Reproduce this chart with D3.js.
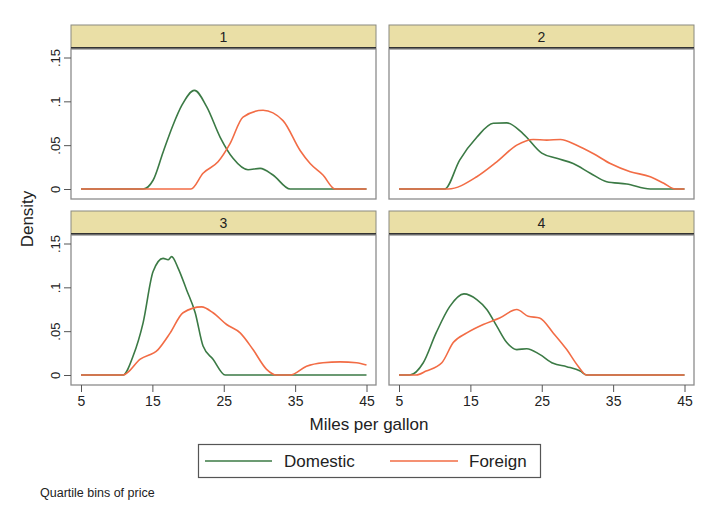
<!DOCTYPE html>
<html>
<head>
<meta charset="utf-8">
<script src="https://cdn.jsdelivr.net/npm/d3@7"></script>
<style>
  body { margin: 0; background: #fff; }
  text { font-family: "Liberation Sans", Arial, sans-serif; fill: #222; }
  .line { fill: none; stroke-width: 1.6px; stroke-linejoin: round; }
</style>
</head>
<body>
<script>
// quartile bins of price
const panels = ['1', '2', '3', '4'];
const seriesNames = ['Domestic', 'Foreign'];
const xTicks = [5, 15, 25, 35, 45];
const yTicks = [0, 0.05, 0.1, 0.15];
const yTickLabels = ['0', '.05', '.1', '.15'];

// density curves: [mpg, density]
const domestic1 = [[5,0],[13.7,0],[15.1,.010],[16.5,.042],[17.9,.073],[19.1,.095],[20.9,.1125],[22.6,.094],[24.5,.059],[26.3,.035],[28.4,.022],[30.1,.0235],[31.9,.016],[34.3,0],[45,0]];
const foreign1 = [[5,0],[20.4,0],[22.1,.018],[24.2,.031],[25.9,.052],[27.7,.082],[30.5,.0898],[33.3,.078],[35.7,.044],[37.1,.029],[38.9,.016],[40.6,0],[45,0]];
const domestic2 = [[5,0],[11.4,0],[13.5,.033],[15.9,.059],[18.2,.075],[20.1,.0754],[22.4,.063],[25,.041],[27.1,.035],[29.4,.029],[31.8,.018],[34.1,.0083],[36.9,.0057],[40.2,0],[45,0]];
const foreign2 = [[5,0],[11.9,0],[15.9,.014],[18.7,.031],[21.5,.050],[23.8,.0565],[25.7,.0557],[27.6,.0565],[29.9,.050],[32.2,.0405],[34.6,.029],[37.4,.0197],[40.2,.014],[42.1,.0065],[43.7,0],[45,0]];
const domestic3 = [[5,0],[10.9,0],[12.3,.0216],[13.7,.0595],[15.1,.118],[16.5,.133],[17.2,.1315],[17.7,.135],[18.6,.122],[19.8,.097],[21,.071],[22.1,.033],[23.5,.018],[25.2,0],[45,0]];
const foreign3 = [[5,0],[10.9,0],[13.3,.018],[15.8,.029],[17.5,.048],[19.3,.071],[21.9,.0777],[23.5,.071],[25.4,.0576],[27.3,.048],[29.1,.029],[31,.0065],[32.4,0],[34.3,0],[36.6,.010],[38.9,.014],[41.3,.015],[43.6,.014],[45,.0114]];
const domestic4 = [[5,0],[6.5,0],[8.4,.014],[10.2,.048],[12.1,.078],[14.1,.0925],[15.9,.086],[17.3,.0747],[18.7,.0557],[20.1,.037],[21.5,.029],[22.9,.030],[24.7,.0235],[26.6,.0133],[28.5,.0095],[30.4,.0045],[31.3,0],[45,0]];
const foreign4 = [[5,0],[7.4,0],[8.8,.0045],[11,.014],[12.6,.037],[14.5,.048],[16.8,.0576],[19.1,.065],[21.5,.0747],[23.1,.067],[24.7,.065],[26.6,.048],[28.5,.029],[30.1,.010],[31.3,0],[45,0]];

const curves = [
  [domestic1, foreign1],
  [domestic2, foreign2],
  [domestic3, foreign3],
  [domestic4, foreign4]
];

const colors = ['#3b7a45', '#f26c45'];

const config = {
  width: 720,
  height: 524,
  colLeft: [71, 389],
  colWidth: 305,
  rowTop: [48, 234],
  plotHeight: 151,
  stripHeight: 23,
  pad: 9.5
};

const svg = d3.select('body')
  .append('svg')
  .attr('width', config.width)
  .attr('height', config.height);

const line = d3.line()
  .x(d => d[0])
  .y(d => d[1])
  .curve(d3.curveMonotoneX);

panels.forEach((name, i) => {
  const col = i % 2;
  const row = Math.floor(i / 2);
  const left = config.colLeft[col];
  const top = config.rowTop[row];
  const w = config.colWidth;
  const h = config.plotHeight;

  const x = d3.scaleLinear().domain([5, 45]).range([left + config.pad + 0.5, left + w - config.pad]);
  const y = d3.scaleLinear().domain([0, 0.15]).range([top + h - config.pad - 0.5, top + config.pad]);

  const g = svg.append('g');

  // strip header
  g.append('rect')
    .attr('x', left).attr('y', top - config.stripHeight)
    .attr('width', w).attr('height', config.stripHeight)
    .attr('fill', '#eadfa6')
    .attr('stroke', '#8a8a80').attr('stroke-width', 1);
  g.append('line')
    .attr('x1', left).attr('x2', left + w)
    .attr('y1', top).attr('y2', top)
    .attr('stroke', '#333').attr('stroke-width', 2);
  g.append('text')
    .attr('x', left + w / 2).attr('y', top - config.stripHeight / 2 + 5)
    .attr('text-anchor', 'middle')
    .style('font-size', '14px')
    .text(name);

  // plot box
  g.append('rect')
    .attr('x', left).attr('y', top + 1)
    .attr('width', w).attr('height', h - 1)
    .attr('fill', 'none')
    .attr('stroke', '#8c8c8c').attr('stroke-width', 1.3);

  // y axis on left column
  if (col === 0) {
    const ya = g.append('g')
      .attr('transform', `translate(${left},0)`)
      .call(d3.axisLeft(y).tickValues(yTicks).tickSize(7).tickFormat((d, k) => yTickLabels[k]));
    ya.select('.domain').remove();
    ya.selectAll('line').attr('stroke', '#555');
    ya.selectAll('text')
      .attr('x', 0).attr('y', 0).attr('dy', 0)
      .attr('transform', 'translate(-11,0) rotate(-90)')
      .attr('text-anchor', 'middle')
      .style('font-size', '13px')
      .style('font-family', '"Liberation Sans", Arial, sans-serif')
      .attr('fill', '#333');
  }

  // x axis on bottom row
  if (row === 1) {
    const xa = g.append('g')
      .attr('transform', `translate(0,${top + h})`)
      .call(d3.axisBottom(x).tickValues(xTicks).tickSize(7).tickFormat(d3.format('d')));
    xa.select('.domain').remove();
    xa.selectAll('line').attr('stroke', '#555');
    xa.selectAll('text')
      .attr('y', 11)
      .style('font-size', '14px')
      .style('font-family', '"Liberation Sans", Arial, sans-serif')
      .attr('fill', '#333');
  }

  curves[i].forEach((pts, s) => {
    g.append('path')
      .datum(pts.map(p => [x(p[0]), y(p[1])]))
      .attr('class', 'line')
      .attr('stroke', colors[s])
      .attr('d', line);
  });
});

// axis titles
svg.append('text')
  .attr('transform', 'translate(33,219) rotate(-90)')
  .attr('text-anchor', 'middle')
  .style('font-size', '17px')
  .text('Density');

svg.append('text')
  .attr('x', 369).attr('y', 430)
  .attr('text-anchor', 'middle')
  .style('font-size', '17px')
  .text('Miles per gallon');

// legend
const legend = svg.append('g');
legend.append('rect')
  .attr('x', 198.5).attr('y', 444.5)
  .attr('width', 342).attr('height', 33)
  .attr('fill', '#fff')
  .attr('stroke', '#555').attr('stroke-width', 1.2);

const legendItems = [
  { x1: 205, x2: 272, tx: 284 },
  { x1: 390, x2: 458, tx: 469 }
];
seriesNames.forEach((n, s) => {
  const it = legendItems[s];
  legend.append('line')
    .attr('x1', it.x1).attr('x2', it.x2)
    .attr('y1', 461).attr('y2', 461)
    .attr('stroke', colors[s]).attr('stroke-width', 1.6);
  legend.append('text')
    .attr('x', it.tx).attr('y', 467)
    .style('font-size', '17px')
    .text(n);
});

svg.append('text')
  .attr('x', 40).attr('y', 497)
  .style('font-size', '12.5px')
  .text('Quartile bins of price');
</script>
</body>
</html>
